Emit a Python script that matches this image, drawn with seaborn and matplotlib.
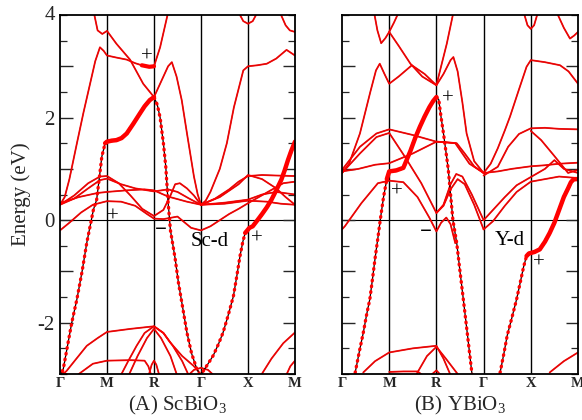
import numpy as np
import pandas as pd
import matplotlib
matplotlib.use('Agg')
import matplotlib.pyplot as plt
import seaborn as sns
from matplotlib.ticker import FixedLocator, MultipleLocator, FuncFormatter

# k path: G=0, M=1, R=2, G=3, X=4, M=5 ; energies in eV
kpath_pos = [0, 1, 2, 3, 4, 5]
kpath_labels = ['Γ', 'M', 'R', 'Γ', 'X', 'M']

# ---------------- (A) ScBiO3 ----------------
sc1_k = [0, 0.1, 0.2, 0.36, 0.5, 0.64, 0.75, 0.85, 0.93, 1, 1.2, 1.42, 1.6, 1.74, 1.9, 2, 2.13, 2.3]
sc1_e = [0.3, 0.45, 0.8, 1.5, 2.1, 2.66, 3.1, 3.37, 3.3, 3.21, 3.17, 3.13, 3.06, 3.02, 2.99, 3.0, 3.37, 4.05]
sc2_k = [0.72, 0.8, 0.9, 1, 1.2, 1.49, 1.77, 2, 2.15, 2.3, 2.38, 2.48, 2.59, 2.7, 2.85, 2.93, 3]
sc2_e = [4.05, 3.7, 3.63, 3.69, 3.44, 3.13, 2.66, 2.4, 2.7, 3.0, 3.08, 2.8, 2.34, 1.7, 0.85, 0.5, 0.3]
sc3_k = [3, 3.1, 3.2, 3.4, 3.55, 3.7, 3.9, 4, 4.2, 4.4, 4.6, 4.82, 5]
sc3_e = [0.3, 0.38, 0.55, 1.0, 1.5, 2.2, 2.92, 3.0, 3.02, 3.05, 3.15, 3.32, 3.21]
sc4_k = [3.8, 3.9, 4, 4.1, 4.2]
sc4_e = [4.05, 3.88, 3.83, 3.88, 4.05]
sc5_k = [4.68, 4.8, 4.89, 5]
sc5_e = [4.05, 3.8, 3.7, 3.67]
sc6_k = [0, 0.2, 0.45, 0.7, 1, 1.3, 1.6, 1.85, 2, 2.2, 2.5, 2.79, 3, 3.2, 3.4, 3.6, 3.8, 4, 4.25, 4.5, 4.75, 5]
sc6_e = [-0.2, -0.05, 0.15, 0.3, 0.37, 0.36, 0.28, 0.12, 0.03, 0.02, 0.07, -0.15, -0.2, -0.12, 0.0, 0.12, 0.22, 0.33, 0.46, 0.59, 0.72, 0.75]
sc7_k = [0, 0.3, 0.6, 0.85, 1, 1.25, 1.5, 1.75, 2, 2.2, 2.35, 2.45, 2.55, 2.7, 2.85, 3, 3.3, 3.6, 3.8, 4, 4.3, 4.6, 5]
sc7_e = [0.3, 0.48, 0.72, 0.85, 0.86, 0.72, 0.48, 0.22, 0.08, 0.2, 0.48, 0.7, 0.72, 0.62, 0.48, 0.3, 0.42, 0.6, 0.75, 0.86, 0.88, 0.87, 0.86]
sc8_k = [0, 0.3, 0.6, 0.85, 1, 1.3, 1.6, 2, 2.3, 2.5, 2.75, 3, 3.5, 4, 4.3, 4.6, 5]
sc8_e = [0.3, 0.42, 0.62, 0.78, 0.81, 0.7, 0.62, 0.56, 0.6, 0.55, 0.42, 0.3, 0.34, 0.4, 0.5, 0.55, 0.5]
sc9_k = [0, 0.4, 0.8, 1, 1.4, 1.8, 2, 2.3, 2.7, 3, 3.5, 4, 4.4, 4.7, 5]
sc9_e = [0.33, 0.45, 0.53, 0.55, 0.58, 0.6, 0.58, 0.46, 0.36, 0.3, 0.32, 0.38, 0.36, 0.32, 0.3]
sc10_k = [3, 3.4, 3.8, 4, 4.3, 4.6, 4.8, 5]
sc10_e = [0.3, 0.45, 0.7, 0.88, 0.8, 0.62, 0.45, 0.3]
sc11_k = [0, 0.14, 0.35, 0.57, 0.8, 1, 1.5, 2, 2.2, 2.34, 2.6, 2.84, 2.95]
sc11_e = [-3.05, -2.94, -2.7, -2.45, -2.3, -2.18, -2.12, -2.07, -2.2, -2.38, -2.65, -2.84, -2.95]
sc12_k = [1.28, 1.45, 1.63, 1.8, 2, 2.2, 2.4, 2.6, 2.75]
sc12_e = [-3.05, -2.75, -2.45, -2.2, -2.07, -2.2, -2.45, -2.75, -3.05]
sc13_k = [1.45, 1.65, 1.85, 2, 2.15, 2.35, 2.5]
sc13_e = [-3.05, -2.65, -2.3, -2.12, -2.3, -2.65, -3.05]
sc14_k = [0.4, 0.7, 1, 1.5, 1.8, 1.88, 1.95]
sc14_e = [-3.0, -2.8, -2.74, -2.73, -2.74, -2.85, -3.05]
sc15_k = [1.88, 1.95, 2, 2.05, 2.12]
sc15_e = [-3.05, -2.82, -2.74, -2.82, -3.05]
sc16_k = [2.7, 2.85, 3, 3.15, 3.3]
sc16_e = [-3.05, -2.92, -2.88, -2.92, -3.05]
sc17_k = [0, 0.1, 0.2]
sc17_e = [-2.95, -2.98, -3.05]
sc18_k = [4.26, 4.5, 4.75, 5]
sc18_e = [-3.05, -2.7, -2.4, -2.19]
sc19_k = [4.8, 4.9, 5]
sc19_e = [-3.05, -2.85, -2.74]
# Bi-s like fat bands
scf1_k = [0, 0.07, 0.15, 0.25, 0.36, 0.47, 0.57, 0.64, 0.71, 0.78, 0.84, 0.89, 0.96, 1, 1.1, 1.2, 1.31, 1.42, 1.56, 1.7,
          1.8, 1.91, 2, 2.07, 2.13, 2.2, 2.25, 2.3, 2.35, 2.45, 2.52, 2.6, 2.7, 2.8, 2.91, 3]
scf1_e = [-3.05, -2.9, -2.5, -2.0, -1.54, -1.0, -0.44, -0.12, 0.2, 0.4, 0.85, 1.24, 1.5, 1.53, 1.55, 1.56, 1.6, 1.69, 1.88, 2.08,
          2.22, 2.34, 2.4, 2.25, 2.0, 1.5, 1.05, 0.35, -0.2, -0.75, -1.22, -1.65, -2.19, -2.6, -2.9, -3.05]
scf2_k = [3, 3.05, 3.15, 3.26, 3.37, 3.47, 3.58, 3.69, 3.76, 3.83, 3.89, 3.94, 4.03, 4.1, 4.21, 4.3, 4.4, 4.5, 4.6, 4.71,
          4.78, 4.85, 4.92, 5]
scf2_e = [-3.05, -2.94, -2.8, -2.64, -2.42, -2.19, -1.85, -1.48, -1.1, -0.7, -0.42, -0.25, -0.15, -0.12, 0.01, 0.12, 0.25, 0.4, 0.58, 0.79,
          0.97, 1.17, 1.35, 1.53]

# ---------------- (B) YBiO3 ----------------
y1_k = [0, 0.15, 0.38, 0.6, 0.72, 0.8, 0.9, 1, 1.2, 1.48, 1.75, 2, 2.15, 2.3, 2.36, 2.45, 2.55, 2.64, 2.8, 3]
y1_e = [0.92, 1.1, 1.69, 2.5, 2.92, 3.05, 2.85, 2.66, 2.8, 3.02, 2.85, 2.63, 2.85, 3.12, 3.18, 2.9, 2.3, 1.69, 1.15, 0.92]
y2_k = [0.68, 0.75, 0.83, 0.92, 1, 1.2, 1.45, 1.7, 2, 2.1, 2.22, 2.36]
y2_e = [4.05, 3.7, 3.45, 3.55, 3.67, 3.4, 3.05, 2.8, 2.63, 3.0, 3.44, 4.05]
y3_k = [1, 1.1, 1.2]
y3_e = [3.67, 3.85, 4.05]
y4_k = [3, 3.15, 3.3, 3.45, 3.56, 3.75, 3.91, 4, 4.3, 4.62, 4.8, 5]
y4_e = [0.92, 1.1, 1.4, 1.75, 2.02, 2.55, 2.99, 3.12, 3.08, 3.02, 2.9, 2.66]
y5_k = [3.85, 3.93, 4, 4.07, 4.15]
y5_e = [4.05, 3.8, 3.73, 3.8, 4.05]
y6_k = [4.55, 4.7, 4.83, 4.92, 5]
y6_e = [4.05, 3.75, 3.54, 3.6, 3.67]
y7_k = [0, 0.38, 0.73, 1, 1.5, 2, 2.2, 2.43, 2.6, 2.8, 3]
y7_e = [0.98, 1.43, 1.69, 1.77, 1.66, 1.53, 1.52, 1.5, 1.3, 1.05, 0.92]
y8_k = [0, 0.38, 0.73, 1, 1.33, 1.68, 2, 2.15, 2.3, 2.42, 2.55, 2.75, 3]
y8_e = [0.92, 1.3, 1.62, 1.7, 1.24, 0.72, 0.14, 0.3, 0.7, 0.9, 0.85, 0.5, 0.0]
y9_k = [0, 0.06, 0.41, 0.76, 1, 1.3, 1.6, 1.85, 2, 2.1, 2.21, 2.3, 2.4]
y9_e = [-0.18, -0.12, 0.33, 0.72, 0.77, 0.74, 0.45, 0.05, -0.22, -0.05, 0.05, -0.08, -0.45]
y10_k = [2, 2.15, 2.3, 2.45, 2.6, 2.8, 3]
y10_e = [0.14, 0.28, 0.6, 0.8, 0.7, 0.3, -0.18]
y11_k = [0, 0.35, 0.7, 1, 1.5, 2, 2.4, 2.7, 3]
y11_e = [0.95, 1.0, 1.08, 1.11, 1.3, 1.53, 1.5, 1.1, 0.92]
y12_k = [3, 3.3, 3.6, 4, 4.3, 4.6, 5]
y12_e = [0.92, 0.95, 1.0, 1.05, 1.07, 1.1, 1.12]
y13_k = [3, 3.2, 3.45, 3.7, 4, 4.3, 4.5, 4.7, 5]
y13_e = [0.0, 0.2, 0.45, 0.68, 0.84, 1.0, 1.17, 1.0, 0.92]
y14_k = [3, 3.2, 3.45, 3.7, 4, 4.3, 4.6, 5]
y14_e = [-0.18, -0.02, 0.28, 0.55, 0.75, 0.8, 0.85, 0.82]
y15_k = [3, 3.3, 3.52, 3.75, 4, 4.3, 4.6, 5]
y15_e = [0.87, 1.04, 1.43, 1.68, 1.79, 1.8, 1.78, 1.77]
y16_k = [4, 4.22, 4.5, 4.79, 5]
y16_e = [1.74, 1.56, 1.25, 0.92, 0.98]
y17_k = [0.45, 0.7, 1, 1.5, 2, 2.15, 2.29]
y17_e = [-2.97, -2.75, -2.58, -2.5, -2.45, -2.7, -3.0]
y18_k = [1.58, 1.8, 2, 2.2, 2.45]
y18_e = [-3.0, -2.65, -2.47, -2.7, -3.0]
y19_k = [1.0, 1.3, 1.6, 1.75]
y19_e = [-2.96, -2.95, -2.95, -3.05]
y20_k = [1.85, 2, 2.12]
y20_e = [-3.05, -2.93, -3.05]
y21_k = [4.4, 4.7, 5]
y21_e = [-2.97, -2.75, -2.58]
yf1_k = [0.25, 0.28, 0.37, 0.45, 0.52, 0.59, 0.65, 0.7, 0.76, 0.81, 0.88, 0.95, 1, 1.15, 1.3, 1.45, 1.55, 1.65, 1.75,
         1.85, 1.93, 2, 2.05, 2.1, 2.15, 2.2, 2.25, 2.3, 2.35, 2.43, 2.5, 2.57, 2.66, 2.75, 2.78]
yf1_e = [-3.2, -2.97, -2.55, -2.2, -1.85, -1.54, -1.12, -0.75, -0.35, 0.0, 0.45, 0.8, 0.95, 0.97, 1.02, 1.35, 1.6, 1.82, 2.02,
         2.2, 2.32, 2.4, 2.35, 2.0, 1.69, 1.35, 1.0, 0.5, 0.0, -0.44, -1.0, -1.54, -2.25, -2.97, -3.2]
yf2_k = [3.32, 3.35, 3.43, 3.5, 3.6, 3.7, 3.78, 3.85, 3.91, 3.96, 4, 4.08, 4.19, 4.3, 4.4, 4.5, 4.6, 4.7, 4.79, 4.85,
         4.9, 4.95, 5]
yf2_e = [-3.2, -2.97, -2.6, -2.25, -1.9, -1.54, -1.2, -0.9, -0.7, -0.65, -0.64, -0.62, -0.57, -0.42, -0.25, -0.05, 0.2, 0.45, 0.62, 0.74,
         0.79, 0.8, 0.8]

sc_bands = [(sc1_k, sc1_e), (sc2_k, sc2_e), (sc3_k, sc3_e), (sc4_k, sc4_e), (sc5_k, sc5_e), (sc6_k, sc6_e),
            (sc7_k, sc7_e), (sc8_k, sc8_e), (sc9_k, sc9_e), (sc10_k, sc10_e), (sc11_k, sc11_e), (sc12_k, sc12_e),
            (sc13_k, sc13_e), (sc14_k, sc14_e), (sc15_k, sc15_e), (sc16_k, sc16_e), (sc17_k, sc17_e),
            (sc18_k, sc18_e), (sc19_k, sc19_e)]
y_bands = [(y1_k, y1_e), (y2_k, y2_e), (y3_k, y3_e), (y4_k, y4_e), (y5_k, y5_e), (y6_k, y6_e), (y7_k, y7_e),
           (y8_k, y8_e), (y9_k, y9_e), (y10_k, y10_e), (y11_k, y11_e), (y12_k, y12_e), (y13_k, y13_e),
           (y14_k, y14_e), (y15_k, y15_e), (y16_k, y16_e), (y17_k, y17_e), (y18_k, y18_e), (y19_k, y19_e),
           (y20_k, y20_e), (y21_k, y21_e)]
sc_fat = [(scf1_k, scf1_e), (scf2_k, scf2_e)]
y_fat = [(yf1_k, yf1_e), (yf2_k, yf2_e)]

# annotations (k, E, text)
sc_notes = [(1.13, 0.05, '+'), (1.85, 3.17, '+'), (2.15, -0.2, '−'), (3.19, -0.41, 'Sc-d'), (4.18, -0.37, '+')]
y_notes = [(2.25, 2.36, '+'), (1.17, 0.55, '+'), (1.78, -0.24, '−'), (3.56, -0.4, 'Y-d'), (4.17, -0.84, '+')]


def to_frame(bands):
    rows = []
    for i, (kk, ee) in enumerate(bands):
        rows.append(pd.DataFrame({'k': kk, 'E': ee, 'band': i}))
    return pd.concat(rows, ignore_index=True)


sns.set_theme(style='white')
plt.rcParams['font.family'] = ['Liberation Serif', 'DejaVu Serif']
plt.rcParams['mathtext.fontset'] = 'custom'
plt.rcParams['mathtext.rm'] = 'Liberation Serif'

fig = plt.figure(figsize=(5.82, 4.2), dpi=100)
ax_a = fig.add_axes([60 / 582, 46 / 420, 235 / 582, 359 / 420])
ax_b = fig.add_axes([342 / 582, 46 / 420, 236 / 582, 359 / 420])


def draw_panel(ax, bands, fat, thick, notes, show_ylabels):
    df = to_frame(bands)
    sns.lineplot(data=df, x='k', y='E', units='band', estimator=None, sort=False,
                 color='black', lw=0.7, ax=ax, legend=False)
    sns.lineplot(data=df, x='k', y='E', units='band', estimator=None, sort=False,
                 color='red', lw=1.3, alpha=0.9, ax=ax, legend=False)
    fdf = to_frame(fat)
    sns.lineplot(data=fdf, x='k', y='E', units='band', estimator=None, sort=False,
                 color='black', lw=0.9, ax=ax, legend=False)
    # red weight dots along the fat bands
    for kk, ee in fat:
        ax.plot(kk, ee, color='red', lw=2.4, ls=(0, (0.25, 1.5)), dash_capstyle='round')
    # heavy (large weight) parts of the fat bands
    for (kk, ee), (k0, k1, w) in zip(fat + [bands[0]], thick):
        kk = np.asarray(kk)
        ee = np.asarray(ee)
        m = (kk >= k0) & (kk <= k1)
        ax.plot(kk[m], ee[m], color='red', lw=w, solid_capstyle='round')

    for x in kpath_pos[1:-1]:
        ax.axvline(x, color='black', lw=1.0, zorder=0.5)
    ax.axhline(0, color='black', lw=0.8, zorder=0.5)

    for kx, ey, t in notes:
        fw = 'bold' if t == '−' else 'normal'
        ax.text(kx, ey, t, fontsize=15, ha='center', va='center', fontweight=fw, color='black')

    ax.set_xlim(0, 5)
    ax.set_ylim(-3, 4)
    ax.set_xlabel('')
    ax.set_ylabel('')
    ax.set_xticks(kpath_pos)
    ax.set_xticklabels(kpath_labels, fontsize=10.5, fontweight='bold')
    ax.tick_params(axis='x', length=0, pad=2)
    ax.yaxis.set_major_locator(FixedLocator([-2, -1, 0, 1, 2, 3]))
    ax.yaxis.set_minor_locator(MultipleLocator(0.5))
    ax.yaxis.set_major_formatter(FuncFormatter(lambda v, p: '%d' % v if round(v) % 2 == 0 else ''))
    ax.tick_params(axis='y', which='major', direction='in', length=9, width=1.0,
                   left=True, right=True, labelsize=15, pad=4, labelleft=show_ylabels)
    ax.tick_params(axis='y', which='minor', direction='in', length=5, width=0.9, left=True, right=True)
    for s in ax.spines.values():
        s.set_color('black')
        s.set_linewidth(1.3)
    ax.set_facecolor('white')


draw_panel(ax_a, sc_bands, sc_fat, [(0.96, 2.0, 3.2), (3.94, 5.0, 3.2), (1.74, 2.0, 3.0)], sc_notes, True)
draw_panel(ax_b, y_bands, y_fat, [(0.95, 2.0, 3.2), (3.91, 5.0, 3.2), (9, 9, 1)], y_notes, False)

# label 4 at top of the axis
ax_a.text(-0.1, 4, '4', fontsize=15, ha='right', va='center', transform=ax_a.transData)

fig.text(21.5 / 582, (420 - 194) / 420, 'Energy (eV)', rotation=90, fontsize=15, ha='center', va='center')
fig.text(177.5 / 582, (420 - 405) / 420, '(A) ScBiO$_3$', fontsize=15, ha='center', va='center')
fig.text(460 / 582, (420 - 405) / 420, '(B) YBiO$_3$', fontsize=15, ha='center', va='center')

fig.savefig('out.png', dpi=100, facecolor='white')
